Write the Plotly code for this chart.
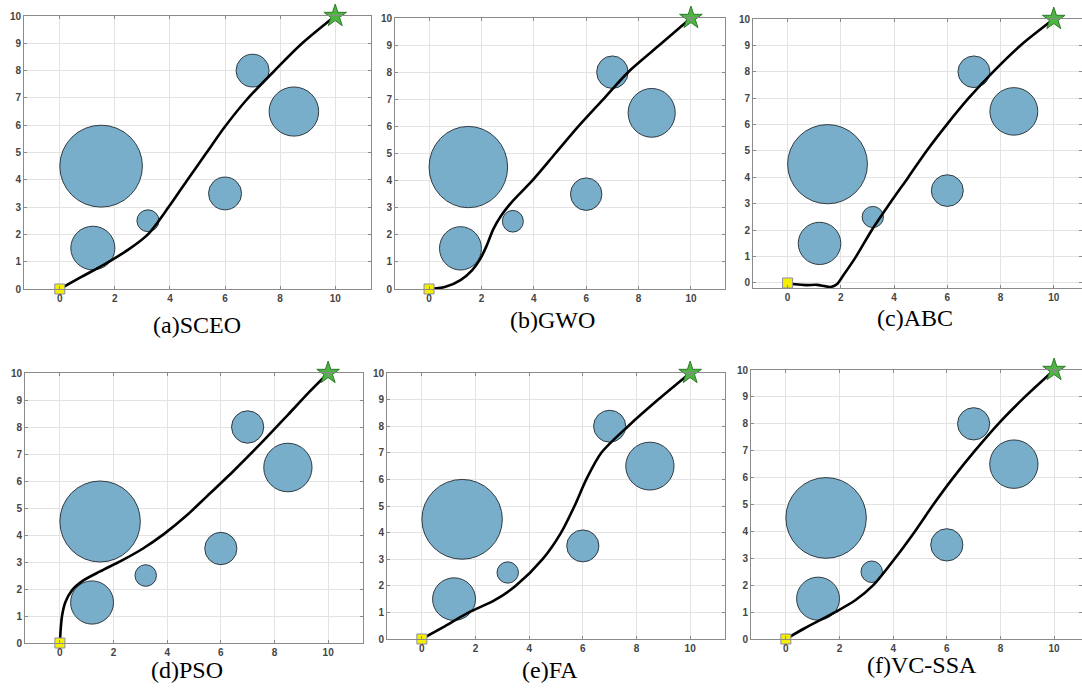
import plotly.graph_objects as go

# Obstacles (same in every panel)
obs_x = [1.5, 1.2, 3.2, 6.0, 7.0, 8.5]
obs_y = [4.5, 1.5, 2.5, 3.5, 8.0, 6.5]
obs_r = [1.5, 0.8, 0.4, 0.6, 0.6, 0.9]

start_pt = (0, 0)
goal_pt = (10, 10)

titles = ["(a)SCEO", "(b)GWO", "(c)ABC", "(d)PSO", "(e)FA", "(f)VC-SSA"]

# Paths
sceo_x = [0, 0.8, 1.7, 2.5, 3.2, 3.95, 4.6, 5.3, 6.0, 6.8, 7.8, 8.8, 10]
sceo_y = [0, 0.45, 0.95, 1.45, 2.0, 3.0, 3.95, 4.95, 5.95, 6.95, 8.0, 9.0, 10]

gwo_x = [0, 0.6, 1.2, 1.65, 1.95, 2.2, 2.45, 2.75, 3.15, 3.94, 4.82, 5.7, 6.65, 7.6, 8.8, 10]
gwo_y = [0, 0.07, 0.33, 0.7, 1.1, 1.6, 2.2, 2.7, 3.2, 4.0, 5.0, 6.0, 7.0, 8.0, 9.0, 10]

abc_x = [0, 0.3, 0.7, 1.1, 1.4, 1.62, 1.85, 2.1, 2.57, 3.16, 3.83, 4.53, 5.22, 5.98, 6.8, 7.72, 8.75, 10]
abc_y = [0, -0.05, -0.08, -0.07, -0.12, -0.15, -0.05, 0.3, 1.0, 2.0, 3.0, 4.0, 5.0, 6.0, 7.0, 8.0, 9.0, 10]

pso_x = [0, 0.03, 0.08, 0.2, 0.45, 0.85, 1.5, 2.3, 3.1, 3.9, 4.7, 5.5, 6.5, 7.5, 8.5, 9.3, 10]
pso_y = [0, 0.5, 1.0, 1.5, 1.95, 2.3, 2.65, 3.05, 3.5, 4.05, 4.7, 5.45, 6.4, 7.4, 8.45, 9.3, 10]

fa_x = [0, 0.8, 1.75, 2.7, 3.5, 4.5, 5.19, 5.69, 6.13, 6.69, 7.69, 8.81, 10]
fa_y = [0, 0.45, 1.0, 1.45, 2.0, 3.0, 4.0, 5.0, 6.0, 7.0, 8.0, 9.0, 10]

vcssa_x = [0, 0.7, 1.84, 2.6, 3.26, 4.07, 4.81, 5.5, 6.24, 7.05, 7.92, 8.91, 10]
vcssa_y = [0, 0.4, 1.0, 1.45, 2.0, 3.0, 4.0, 5.0, 6.0, 7.0, 8.0, 9.0, 10]

paths = [(sceo_x, sceo_y), (gwo_x, gwo_y), (abc_x, abc_y),
         (pso_x, pso_y), (fa_x, fa_y), (vcssa_x, vcssa_y)]

W, H = 1082, 689
# panel boxes in pixels: left, right, top, bottom
boxes = [(24, 371, 16, 289), (395, 725, 18, 289), (753, 1082, 19, 288),
         (25, 363, 373, 643), (387, 725, 373, 639), (751, 1082, 370, 639)]
xranges = [[-1.3, 11.3], [-1.3, 11.3], [-1.3, 11.06],
           [-1.3, 11.3], [-1.3, 11.3], [-1.3, 11.04]]
yranges = [[0, 10], [0, 10], [-0.19, 10], [0, 10], [0, 10], [0, 10]]
title_pos = [(197, 325), (552, 320), (915, 318), (187, 670), (550, 670), (922, 665)]

fig = go.Figure()
layout = dict(width=W, height=H, margin=dict(l=0, r=0, t=0, b=0, autoexpand=False),
              paper_bgcolor="white", plot_bgcolor="white", showlegend=False,
              hovermode=False)
shapes = []
annotations = []

tickfont = dict(family="Liberation Sans, Arial", size=10, color="#444444", weight="bold")

for i in range(6):
    n = "" if i == 0 else str(i + 1)
    xa, ya = "x" + n, "y" + n
    l, r, t, b = boxes[i]
    common = dict(showgrid=True, gridcolor="#e3e3e3", gridwidth=1, zeroline=False,
                  showline=True, linecolor="#8a8a8a", linewidth=1, mirror="ticks",
                  ticks="inside", ticklen=3, tickcolor="#8a8a8a",
                  tickfont=tickfont, fixedrange=True, automargin=False)
    layout["xaxis" + n] = dict(domain=[l / W, r / W], range=xranges[i], anchor=ya,
                               tickmode="array", tickvals=[0, 2, 4, 6, 8, 10], **common)
    layout["yaxis" + n] = dict(domain=[1 - b / H, 1 - t / H], range=yranges[i], anchor=xa,
                               tickmode="array", tickvals=list(range(0, 11)), **common)
    for cx, cy, rr in zip(obs_x, obs_y, obs_r):
        shapes.append(dict(type="circle", xref=xa, yref=ya,
                           x0=cx - rr, x1=cx + rr, y0=cy - rr, y1=cy + rr,
                           fillcolor="#79aecb", line=dict(color="#2f3b42", width=1),
                           layer="between"))
    px, py = paths[i]
    fig.add_trace(go.Scatter(x=px, y=py, mode="lines", xaxis=xa, yaxis=ya,
                             line=dict(color="black", width=2.6, shape="spline", smoothing=0.8),
                             hoverinfo="skip"))
    fig.add_trace(go.Scatter(x=[start_pt[0]], y=[start_pt[1]], mode="markers", xaxis=xa, yaxis=ya,
                             marker=dict(symbol="square", size=10, color="#f5f000",
                                         line=dict(color="#8b8ba6", width=1)),
                             cliponaxis=False))
    fig.add_trace(go.Scatter(x=[goal_pt[0]], y=[goal_pt[1]], mode="markers", xaxis=xa, yaxis=ya,
                             marker=dict(symbol="star", size=17, color="#4fb443",
                                         line=dict(color="#2d7a2a", width=1)),
                             cliponaxis=False))
    tx, ty = title_pos[i]
    annotations.append(dict(text=titles[i], x=tx / W, y=1 - ty / H, xref="paper", yref="paper",
                            xanchor="center", yanchor="middle", showarrow=False,
                            font=dict(family="Liberation Serif, Times New Roman", size=24, color="black")))

layout["shapes"] = shapes
layout["annotations"] = annotations
fig.update_layout(**layout)
fig.write_html("out.html", config={"displayModeBar": False},
               post_script="document.body.style.margin='0';document.body.style.overflow='hidden';")
